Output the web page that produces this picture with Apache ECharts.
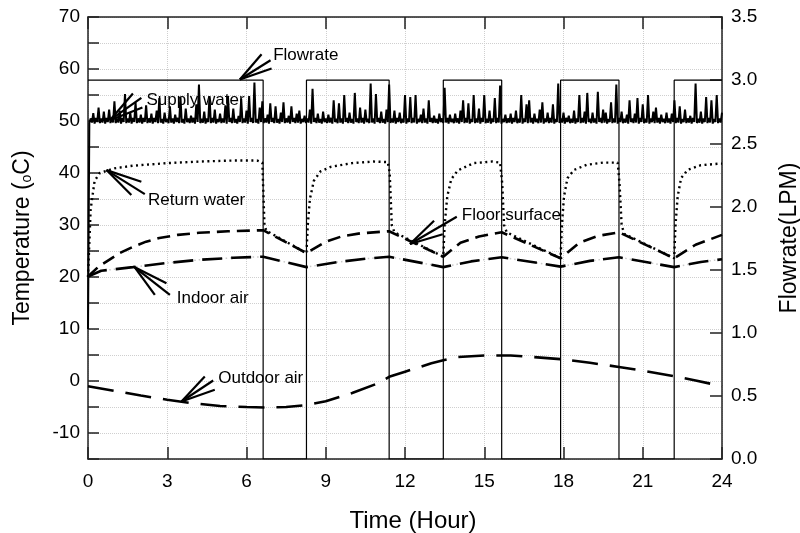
<!DOCTYPE html>
<html>
<head>
<meta charset="utf-8">
<script src="https://cdn.jsdelivr.net/npm/echarts@6/dist/echarts.min.js"></script>
<style>
html, body { margin: 0; padding: 0; background: #fff; }
#chart { width: 800px; height: 533px; }
</style>
</head>
<body>
<div id="chart"></div>
<script>
// flowrate (LPM), square wave, step 'end'
var flowTimes = [0, 6.63, 8.27, 11.4, 13.45, 15.66, 17.89, 20.1, 22.19, 24];
var flowValues = [3, 0, 3, 0, 3, 0, 3, 0, 3, 3];

// supply water, one value every 0.05 hour from 0 to 24 (20 per row = 1 hour)
var supplyStep = 0.05;
var supplyWater = [
  10, 49.6, 50.5, 49.7, 51.5, 49.5, 50.6, 49.8, 52.6, 49.6, 50.5, 49.7, 51.8, 49.5, 50.6, 49.8, 52.2, 49.6, 50.5, 49.7,
  53.8, 49.6, 50.5, 49.7, 52.0, 49.5, 50.6, 49.8, 55.2, 49.6, 50.5, 49.7, 51.6, 49.5, 50.6, 49.8, 53.6, 49.6, 50.5, 49.7,
  51.2, 49.5, 50.6, 49.8, 53.0, 49.6, 50.5, 49.7, 51.4, 49.5, 50.6, 49.8, 52.0, 49.6, 54.4, 49.7, 50.4, 49.5, 51.6, 49.8,
  50.4, 49.6, 52.8, 49.7, 50.5, 49.5, 51.2, 49.8, 50.6, 49.6, 54.6, 49.7, 50.4, 49.5, 52.4, 49.8, 50.5, 49.6, 51.0, 49.7,
  50.6, 49.5, 53.2, 49.8, 57.0, 49.6, 50.4, 49.7, 51.8, 49.5, 50.5, 49.8, 54.8, 49.6, 50.6, 49.7, 52.2, 49.5, 50.4, 49.8,
  51.4, 49.6, 50.5, 49.7, 53.0, 49.5, 54.6, 49.8, 50.6, 49.6, 52.4, 49.7, 50.4, 49.5, 51.0, 49.8, 54.2, 49.6, 50.5, 49.7,
  52.0, 49.5, 54.8, 49.8, 50.6, 49.6, 57.4, 49.7, 50.4, 49.5, 52.6, 49.8, 53.8, 49.6, 50.5, 49.7, 51.2, 49.5, 53.4, 49.8,
  50.6, 49.6, 52.8, 49.7, 50.4, 49.5, 51.6, 49.8, 53.6, 49.6, 50.5, 49.7, 51.0, 49.5, 52.8, 49.8, 50.6, 49.6, 51.4, 49.7,
  52.0, 49.5, 50.4, 49.8, 51.0, 49.6, 50.5, 49.7, 52.2, 49.5, 56.2, 49.8, 50.6, 49.6, 51.4, 49.7, 50.4, 49.5, 51.8, 49.8,
  50.5, 49.6, 51.2, 49.7, 50.6, 49.5, 54.0, 49.8, 50.4, 49.6, 53.4, 49.7, 50.5, 49.5, 55.0, 49.8, 50.6, 49.6, 51.6, 49.7,
  50.4, 49.5, 55.4, 49.8, 50.5, 49.6, 52.6, 49.7, 50.6, 49.5, 52.2, 49.8, 50.4, 49.6, 57.2, 49.7, 50.5, 49.5, 55.2, 49.8,
  50.6, 49.6, 51.8, 49.7, 50.4, 49.5, 52.2, 49.8, 57.0, 49.6, 50.5, 49.7, 52.0, 49.5, 50.6, 49.8, 51.6, 49.6, 50.4, 49.7,
  55.0, 49.5, 50.5, 49.8, 54.6, 49.6, 50.6, 49.7, 55.0, 49.5, 50.4, 49.8, 51.2, 49.6, 52.4, 49.7, 50.5, 49.5, 54.0, 49.8,
  50.6, 49.6, 51.0, 49.7, 50.4, 49.5, 51.4, 49.8, 50.5, 49.6, 56.4, 49.7, 50.6, 49.5, 51.2, 49.8, 50.4, 49.6, 51.4, 49.7,
  50.5, 49.5, 52.0, 49.8, 54.0, 49.6, 50.6, 49.7, 53.4, 49.5, 50.4, 49.8, 55.0, 49.6, 50.5, 49.7, 52.4, 49.5, 50.6, 49.8,
  55.0, 49.6, 50.4, 49.7, 52.0, 49.5, 50.5, 49.8, 54.4, 49.6, 50.6, 49.7, 56.8, 49.5, 50.4, 49.8, 51.2, 49.6, 50.5, 49.7,
  51.4, 49.5, 50.6, 49.8, 52.0, 49.6, 50.4, 49.7, 55.0, 49.5, 50.5, 49.8, 53.2, 49.6, 54.0, 49.7, 50.6, 49.5, 51.4, 49.8,
  50.4, 49.6, 52.2, 49.7, 53.6, 49.5, 50.5, 49.8, 51.6, 49.6, 50.6, 49.7, 53.2, 49.5, 50.4, 49.8, 57.2, 49.6, 50.5, 49.7,
  51.6, 49.5, 50.6, 49.8, 51.0, 49.6, 50.4, 49.7, 52.0, 49.5, 50.5, 49.8, 55.0, 49.6, 50.6, 49.7, 51.8, 49.5, 55.4, 49.8,
  50.4, 49.6, 51.6, 49.7, 50.5, 49.5, 55.6, 49.8, 50.6, 49.6, 52.2, 49.7, 51.6, 49.5, 50.4, 49.8, 53.6, 49.6, 50.5, 49.7,
  57.0, 49.5, 50.6, 49.8, 51.8, 49.6, 50.4, 49.7, 51.2, 49.5, 54.0, 49.8, 50.5, 49.6, 51.4, 49.7, 54.4, 49.5, 50.6, 49.8,
  53.2, 49.6, 50.4, 49.7, 55.0, 49.5, 50.5, 49.8, 51.8, 49.6, 52.6, 49.7, 50.6, 49.5, 51.2, 49.8, 50.4, 49.6, 51.6, 49.7,
  50.5, 49.5, 51.4, 49.8, 54.0, 49.6, 50.6, 49.7, 52.8, 49.5, 50.4, 49.8, 52.2, 49.6, 50.5, 49.7, 51.0, 49.5, 50.6, 49.8,
  57.2, 49.6, 50.4, 49.7, 51.8, 49.5, 50.5, 49.8, 54.6, 49.6, 50.6, 49.7, 54.0, 49.5, 50.4, 49.8, 55.0, 49.6, 50.5, 49.7,
  51.6
];

// return water
var returnTimes = [0, 0.1, 0.25, 0.45, 1, 1.7, 3, 4.2, 5.5, 6.4, 6.6, 6.68, 6.75,
  8.27, 8.32, 8.4, 8.55, 8.8, 9.2, 10, 10.8, 11.35, 11.42, 11.5, 11.6,
  13.45, 13.5, 13.6, 13.75, 14, 14.6, 15.3, 15.6, 15.68, 15.75, 15.85,
  17.89, 17.94, 18.02, 18.15, 18.4, 18.9, 19.5, 20.05, 20.12, 20.2, 20.3,
  22.19, 22.24, 22.32, 22.45, 22.7, 23.2, 23.9, 24];
var returnTemp = [20, 33, 38.5, 40, 40.9, 41.4, 41.9, 42.2, 42.4, 42.4, 42, 30, 28.9,
  24.6, 30, 35, 38.5, 40.3, 41.2, 41.9, 42.2, 42.1, 40, 30, 28.6,
  23.9, 30, 35.5, 38.8, 40.5, 41.9, 42.2, 42, 38, 30, 28.6,
  23.6, 30, 35.5, 39, 40.6, 41.6, 42, 42, 38, 30, 28.3,
  23.6, 30, 35.4, 39, 40.6, 41.5, 41.8, 41.8];

// floor surface
var floorTimes = [0, 0.4, 0.8, 1.2, 1.7, 2.2, 2.7, 3.4, 4.2, 5.3, 6.63, 8.27, 9, 9.6, 10.3, 11.4,
  13.45, 14.1, 14.8, 15.66, 17.89, 18.6, 19.3, 20.1, 22.19, 23, 24];
var floorTemp = [20.1, 22, 23.3, 24.6, 25.8, 26.8, 27.5, 28.1, 28.5, 28.8, 29.0, 24.6, 26.8, 27.8, 28.4, 28.8,
  23.9, 26.6, 27.8, 28.6, 23.6, 26.6, 27.9, 28.6, 23.6, 26.2, 28.1];

// indoor air
var indoorTimes = [0, 0.5, 1.7, 3, 4.2, 5.5, 6.63, 8.27, 9.5, 10.5, 11.4, 13.45, 14.5, 15.66,
  17.89, 19, 20.1, 22.19, 23.2, 24];
var indoorTemp = [20.1, 21.2, 21.9, 22.7, 23.3, 23.7, 23.9, 21.9, 22.9, 23.5, 23.9, 21.9, 23, 23.8,
  22.0, 23.1, 23.8, 21.9, 22.9, 23.4];

// outdoor air
var outdoorTimes = [0, 1, 2, 3, 4, 5, 6, 6.75, 7.5, 8.15, 9, 10, 11, 11.4, 12, 13, 13.45, 14, 15, 16,
  16.6, 17.9, 19, 20.1, 21, 22.2, 23, 24];
var outdoorTemp = [-1.0, -1.9, -2.8, -3.6, -4.3, -4.8, -5.0, -5.1, -5.0, -4.7, -3.9, -2.3, -0.4, 0.8, 1.8, 3.4, 4.0, 4.6, 4.9, 4.9,
  4.7, 4.2, 3.5, 2.7, 2.0, 0.9, 0.1, -1.0];

// annotations in data units (hour, degC)
var annoText = ['Flowrate', 'Supply water', 'Return water', 'Floor surface', 'Indoor air', 'Outdoor air'];
var annoTip = [[5.75, 57.98], [0.83, 50.16], [0.70, 40.56], [12.19, 26.35], [1.77, 21.87], [3.54, -3.94]];
var annoEnds = [
  [[6.57, 62.84], [6.91, 61.69], [6.95, 60.09]],
  [[1.70, 55.29], [2.02, 54.45], [2.06, 52.6]],
  [[2.02, 38.31], [1.64, 35.76], [2.15, 35.95]],
  [[13.1, 30.82], [13.96, 31.59], [13.43, 28.21]],
  [[2.97, 18.8], [2.53, 16.55], [3.10, 16.55]],
  [[4.42, 0.86], [4.74, 0.1], [4.80, -1.69]]
];
var annoTextPos = [[7.01, 62.65], [2.21, 54.0], [2.27, 34.8], [14.15, 31.78], [3.36, 15.92], [4.93, 0.56]];

function pairs(ts, vs) {
  return ts.map(function (t, i) { return [t, vs[i]]; });
}

var supplyData = supplyWater.map(function (v, i) {
  return [+(i * supplyStep).toFixed(2), v];
});

var arrowSegs = [];
annoTip.forEach(function (tip, i) {
  annoEnds[i].forEach(function (e) {
    arrowSegs.push({ coords: [tip, e] });
  });
});

var font = "Arial, 'Liberation Sans', sans-serif";
var axisColor = '#222';
var gridStyle = { type: 'dotted', color: '#cfcfcf', width: 1 };

var chart = echarts.init(document.getElementById('chart'));
var option = {
  animation: false,
  backgroundColor: '#fff',
  textStyle: { fontFamily: font },
  grid: { left: 88, right: 78, top: 17, bottom: 74, outerBoundsMode: 'none', containLabel: false },
  xAxis: [
    {
      type: 'value', min: 0, max: 24, interval: 3, position: 'bottom',
      name: 'Time (Hour)', nameLocation: 'middle', nameGap: 50,
      nameTextStyle: { fontSize: 24, color: '#000', fontFamily: font, padding: [0, 0, 0, 16] },
      axisLine: { show: true, onZero: false, lineStyle: { color: axisColor, width: 1.5 } },
      axisTick: { show: true, inside: true, length: 12, lineStyle: { color: axisColor, width: 1.5 } },
      axisLabel: { fontSize: 19, color: '#000', margin: 13, fontFamily: font },
      splitLine: { show: true, lineStyle: gridStyle }
    },
    {
      type: 'value', min: 0, max: 24, interval: 3, position: 'top',
      axisLine: { show: true, onZero: false, lineStyle: { color: axisColor, width: 1.5 } },
      axisTick: { show: true, inside: true, length: 12, lineStyle: { color: axisColor, width: 1.5 } },
      axisLabel: { show: false },
      splitLine: { show: false }
    }
  ],
  yAxis: [
    {
      type: 'value', min: -15, max: 70, interval: 5, position: 'left',
      name: 'Temperature ({s|o}C)', nameLocation: 'middle', nameGap: 54,
      nameTextStyle: {
        fontSize: 23, color: '#000', fontFamily: font,
        rich: { s: { fontSize: 14, color: '#000', fontFamily: font, verticalAlign: 'bottom' } }
      },
      axisLine: { show: true, onZero: false, lineStyle: { color: axisColor, width: 1.5 } },
      axisTick: { show: true, inside: true, length: 11, lineStyle: { color: axisColor, width: 1.5 } },
      axisLabel: {
        fontSize: 19, color: '#000', margin: 8, fontFamily: font,
        formatter: function (v) { return v % 10 === 0 ? String(v) : ''; }
      },
      splitLine: { show: true, lineStyle: gridStyle }
    },
    {
      type: 'value', min: 0, max: 3.5, interval: 0.5, position: 'right',
      name: 'Flowrate(LPM)', nameLocation: 'middle', nameGap: 56,
      nameTextStyle: { fontSize: 23, color: '#000', fontFamily: font },
      axisLine: { show: true, onZero: false, lineStyle: { color: axisColor, width: 1.5 } },
      axisTick: { show: true, inside: true, length: 12, lineStyle: { color: axisColor, width: 1.5 } },
      axisLabel: {
        fontSize: 19, color: '#000', margin: 9, fontFamily: font,
        formatter: function (v) { return v.toFixed(1); }
      },
      splitLine: { show: false }
    }
  ],
  series: [
    {
      name: 'Flowrate', type: 'line', xAxisIndex: 0, yAxisIndex: 1, step: 'end',
      symbol: 'none', data: pairs(flowTimes, flowValues),
      lineStyle: { color: '#000', width: 1.2 }, z: 2
    },
    {
      name: 'Supply water', type: 'line', xAxisIndex: 0, yAxisIndex: 0,
      symbol: 'none', data: supplyData,
      lineStyle: { color: '#000', width: 2 }, z: 3
    },
    {
      name: 'Indoor air grey', type: 'line', xAxisIndex: 0, yAxisIndex: 0,
      symbol: 'none', data: pairs(indoorTimes, indoorTemp),
      lineStyle: { color: '#c8c8c8', width: 1.5, type: [1.5, 3] }, z: 3
    },
    {
      name: 'Return water', type: 'line', xAxisIndex: 0, yAxisIndex: 0,
      symbol: 'none', data: pairs(returnTimes, returnTemp),
      lineStyle: { color: '#000', width: 2.4, type: [2, 3.5] }, z: 4
    },
    {
      name: 'Floor surface', type: 'line', xAxisIndex: 0, yAxisIndex: 0,
      symbol: 'none', data: pairs(floorTimes, floorTemp),
      lineStyle: { color: '#000', width: 2.6, type: [13, 7] }, z: 5
    },
    {
      name: 'Indoor air', type: 'line', xAxisIndex: 0, yAxisIndex: 0,
      symbol: 'none', data: pairs(indoorTimes, indoorTemp),
      lineStyle: { color: '#000', width: 2.6, type: [20, 9] }, z: 5
    },
    {
      name: 'Outdoor air', type: 'line', xAxisIndex: 0, yAxisIndex: 0,
      symbol: 'none', data: pairs(outdoorTimes, outdoorTemp),
      lineStyle: { color: '#000', width: 2.6, type: [26, 12] }, z: 5
    },
    {
      name: 'arrows', type: 'lines', coordinateSystem: 'cartesian2d',
      xAxisIndex: 0, yAxisIndex: 0, polyline: false, silent: true,
      lineStyle: { color: '#000', width: 2.2, opacity: 1, curveness: 0 },
      data: arrowSegs, z: 10
    },
    {
      name: 'labels', type: 'scatter', xAxisIndex: 0, yAxisIndex: 0,
      symbolSize: 0, silent: true,
      itemStyle: { opacity: 1 },
      data: annoTextPos.map(function (p, i) { return { value: p, name: annoText[i] }; }),
      label: {
        show: true, position: 'right', distance: 0, formatter: '{b}',
        fontSize: 17, color: '#000', opacity: 1, fontFamily: font, textBorderWidth: 0
      },
      z: 11
    }
  ]
};
chart.setOption(option);
</script>
</body>
</html>
